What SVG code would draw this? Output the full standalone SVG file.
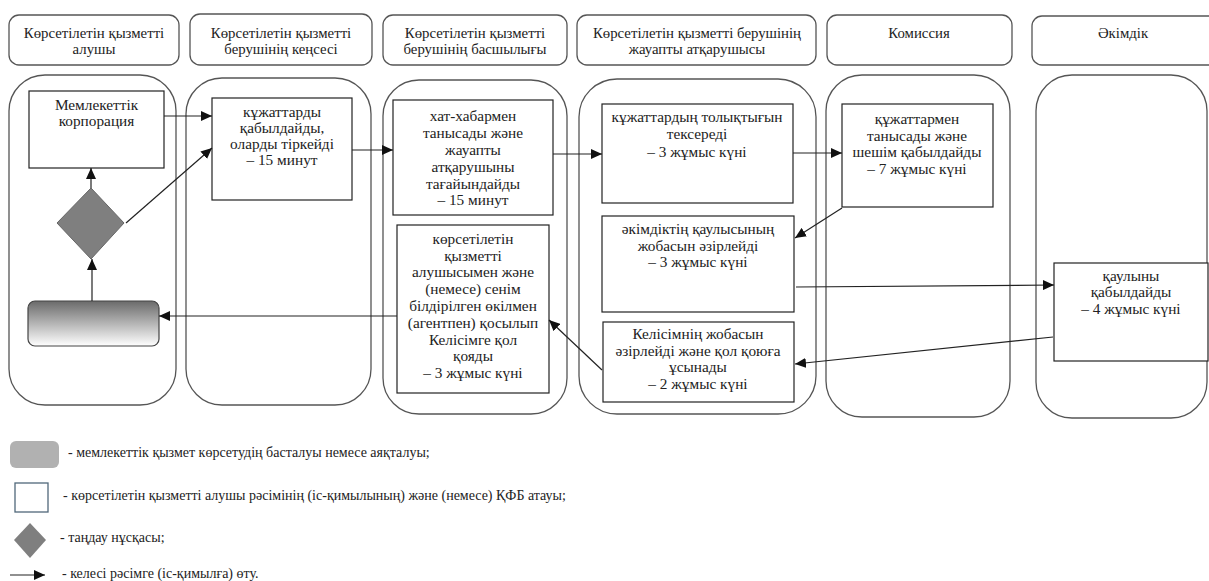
<svg xmlns="http://www.w3.org/2000/svg" width="1209" height="581" viewBox="0 0 1209 581" font-family="Liberation Serif, Times New Roman, DejaVu Serif, serif">
<style>
.hdr{fill:#fff;stroke:#555;stroke-width:1.3}
.lane{fill:#fff;stroke:#555;stroke-width:1.3}
.box{fill:#fff;stroke:#222;stroke-width:1.2}
.t{font-size:14.8px;text-anchor:middle;fill:#222}
.n{font-size:15.3px;text-anchor:middle;fill:#222}
.lg{font-size:14px;fill:#222}
.c{fill:none;stroke:#222;stroke-width:1.2}
</style>
<defs>
<marker id="ah" markerUnits="userSpaceOnUse" markerWidth="12" markerHeight="10" refX="11" refY="5" orient="auto">
<path d="M0,0 L11,5 L0,10 Z" fill="#111"/>
</marker>
<linearGradient id="g" x1="0" y1="0" x2="0" y2="1">
<stop offset="0" stop-color="#6a6a6a"/>
<stop offset="1" stop-color="#ffffff"/>
</linearGradient>
</defs>

<g id="headers">
<rect class="hdr" x="9" y="15" width="170" height="50" rx="10"/>
<text class="t" x="94" y="38">Көрсетілетін қызметті</text>
<text class="t" x="94" y="54">алушы</text>
<rect class="hdr" x="190" y="14" width="182" height="51" rx="10"/>
<text class="t" x="281" y="38">Көрсетілетін қызметті</text>
<text class="t" x="281" y="54">берушінің кеңсесі</text>
<rect class="hdr" x="383" y="15" width="184" height="50" rx="10"/>
<text class="t" x="475" y="38">Көрсетілетін қызметті</text>
<text class="t" x="475" y="54">берушінің басшылығы</text>
<rect class="hdr" x="577" y="15" width="239" height="50" rx="10"/>
<text class="t" x="697" y="38">Көрсетілетін қызметті берушінің</text>
<text class="t" x="697" y="54">жауапты атқарушысы</text>
<rect class="hdr" x="827" y="15" width="185" height="50" rx="10"/>
<text class="t" x="919" y="38">Комиссия</text>
<rect class="hdr" x="1032" y="16" width="190" height="49" rx="10"/>
<text class="t" x="1123" y="38">Әкімдік</text>
</g>

<g id="lanes">
<rect class="lane" x="9" y="75" width="167" height="330" rx="36"/>
<rect class="lane" x="186" y="78" width="185" height="327" rx="36"/>
<rect class="lane" x="383" y="80" width="184" height="334" rx="36"/>
<rect class="lane" x="579" y="79" width="237" height="335" rx="38"/>
<rect class="lane" x="826" y="75" width="184" height="342" rx="36"/>
<rect class="lane" x="1036" y="75" width="171" height="343" rx="36"/>
</g>

<g id="n-corp">
<rect class="box" x="29" y="91" width="135" height="77"/>
<text class="n" x="96.5" y="110">Мемлекеттік</text>
<text class="n" x="96.5" y="126">корпорация</text>
</g>
<g id="n-decision">
<polygon points="91,188 124,223 91,259 57,223" fill="#7f7f7f" stroke="#666" stroke-width="1"/>
</g>
<g id="n-start">
<rect x="28" y="301" width="131" height="45" rx="7" fill="url(#g)" stroke="#444" stroke-width="1.2"/>
</g>
<g id="n-receive">
<rect class="box" x="212" y="98" width="140" height="102"/>
<text class="n" x="282" y="117">кұжаттарды</text>
<text class="n" x="282" y="133">қабылдайды,</text>
<text class="n" x="282" y="149">оларды тіркейді</text>
<text class="n" x="282" y="165">– 15 минут</text>
</g>
<g id="n-head">
<rect class="box" x="393" y="100" width="160" height="115"/>
<text class="n" x="473" y="121">хат-хабармен</text>
<text class="n" x="473" y="138">танысады және</text>
<text class="n" x="473" y="155">жауапты</text>
<text class="n" x="473" y="172">атқарушыны</text>
<text class="n" x="473" y="189">тағайындайды</text>
<text class="n" x="473" y="205">– 15 минут</text>
</g>
<g id="n-sign">
<rect class="box" x="397" y="225" width="152" height="168"/>
<text class="n" x="473" y="244">көрсетілетін</text>
<text class="n" x="473" y="261">қызметті</text>
<text class="n" x="473" y="277">алушысымен және</text>
<text class="n" x="473" y="294">(немесе) сенім</text>
<text class="n" x="473" y="311">білдірілген өкілмен</text>
<text class="n" x="473" y="328">(агентпен) қосылып</text>
<text class="n" x="473" y="345">Келісімге қол</text>
<text class="n" x="473" y="361">қояды</text>
<text class="n" x="473" y="378">– 3 жұмыс күні</text>
</g>
<g id="n-check">
<rect class="box" x="602" y="104" width="191" height="99"/>
<text class="n" x="697" y="122">кұжаттардың толықтығын</text>
<text class="n" x="697" y="139">тексереді</text>
<text class="n" x="697" y="157">– 3 жұмыс күні</text>
</g>
<g id="n-draft">
<rect class="box" x="602" y="216" width="192" height="96"/>
<text class="n" x="698" y="234">әкімдіктің қаулысының</text>
<text class="n" x="698" y="251">жобасын әзірлейді</text>
<text class="n" x="698" y="267">– 3 жұмыс күні</text>
</g>
<g id="n-agreement">
<rect class="box" x="603" y="322" width="191" height="80"/>
<text class="n" x="698" y="339">Келісімнің жобасын</text>
<text class="n" x="698" y="356">әзірлейді және қол қоюға</text>
<text class="n" x="698" y="372">ұсынады</text>
<text class="n" x="698" y="389">– 2 жұмыс күні</text>
</g>
<g id="n-commission">
<rect class="box" x="842" y="104" width="151" height="103"/>
<text class="n" x="917" y="124">құжаттармен</text>
<text class="n" x="917" y="141">танысады және</text>
<text class="n" x="917" y="157">шешім қабылдайды</text>
<text class="n" x="917" y="174">– 7 жұмыс күні</text>
</g>
<g id="n-akimat">
<rect class="box" x="1054" y="263" width="154" height="98"/>
<text class="n" x="1131" y="281">қаулыны</text>
<text class="n" x="1131" y="297">қабылдайды</text>
<text class="n" x="1131" y="314">– 4 жұмыс күні</text>
</g>

<g id="connectors">
<line class="c" x1="164" y1="116" x2="212" y2="116" marker-end="url(#ah)"/>
<line class="c" x1="126" y1="223" x2="212" y2="148" marker-end="url(#ah)"/>
<line class="c" x1="91" y1="188" x2="91" y2="168" marker-end="url(#ah)"/>
<line class="c" x1="92" y1="301" x2="92" y2="259" marker-end="url(#ah)"/>
<line class="c" x1="352" y1="150" x2="393" y2="150" marker-end="url(#ah)"/>
<line class="c" x1="553" y1="154" x2="602" y2="154" marker-end="url(#ah)"/>
<line class="c" x1="793" y1="153" x2="842" y2="153" marker-end="url(#ah)"/>
<line class="c" x1="842" y1="208" x2="795" y2="238" marker-end="url(#ah)"/>
<line class="c" x1="796" y1="287" x2="1054" y2="285" marker-end="url(#ah)"/>
<line class="c" x1="1053" y1="337" x2="795" y2="364" marker-end="url(#ah)"/>
<line class="c" x1="602" y1="370" x2="549" y2="320" marker-end="url(#ah)"/>
<line class="c" x1="397" y1="316" x2="159" y2="316" marker-end="url(#ah)"/>
</g>

<g id="legend">
<rect x="10" y="441" width="49" height="27" rx="6" fill="#b1b1b1"/>
<text class="lg" x="68" y="457">- мемлекеттік қызмет көрсетудің басталуы немесе аяқталуы;</text>
<rect x="15" y="483" width="33" height="29" fill="#fff" stroke="#50687a" stroke-width="1.3"/>
<text class="lg" x="63" y="500">- көрсетілетін қызметті алушы рәсімінің (іс-қимылының) және (немесе) ҚФБ атауы;</text>
<polygon points="30,523 46,540 30,558 14,540" fill="#7f7f7f"/>
<text class="lg" x="60" y="542">- таңдау нұсқасы;</text>
<line class="c" x1="10" y1="575" x2="45" y2="575" marker-end="url(#ah)"/>
<text class="lg" x="62" y="578">- келесі рәсімге (іс-қимылға) өту.</text>
</g>
</svg>
